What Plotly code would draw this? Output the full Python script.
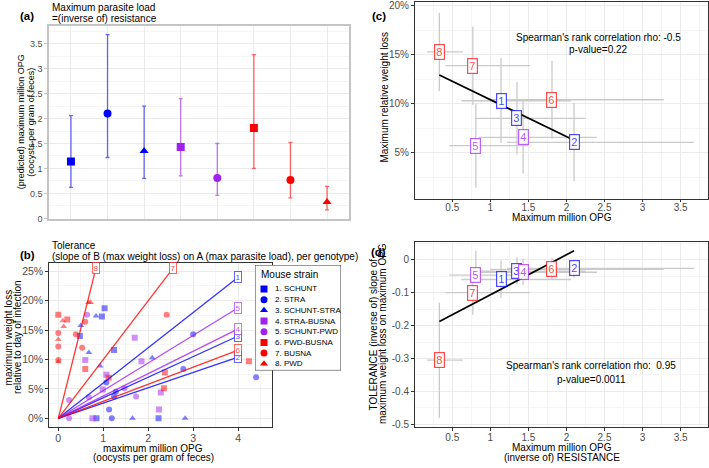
import numpy as np
import plotly.graph_objects as go

W, H = 709, 468
FONT = "Liberation Sans, Arial, sans-serif"

# ---------------- data ----------------
strain_names = ["1. SCHUNT", "2. STRA", "3. SCHUNT-STRA", "4. STRA-BUSNA",
                "5. SCHUNT-PWD", "6. PWD-BUSNA", "7. BUSNA", "8. PWD"]
strain_ids = ["1", "2", "3", "4", "5", "6", "7", "8"]
strain_symbols = ["square", "circle", "triangle-up", "square", "circle",
                  "square", "circle", "triangle-up"]
strain_groups = ["blue", "blue", "blue", "purple", "purple", "red", "red", "red"]

# (a) predicted maximum million OPG with CI
opg_max = [1.14, 2.10, 1.35, 1.43, 0.81, 1.81, 0.77, 0.33]
opg_lo = [0.62, 1.22, 0.80, 0.85, 0.46, 1.00, 0.41, 0.17]
opg_hi = [2.06, 3.68, 2.25, 2.40, 1.50, 3.28, 1.52, 0.64]

# (c) maximum relative weight loss (%) with CI
wl_max = [10.3, 6.05, 8.5, 6.55, 5.7, 10.4, 13.9, 15.3]
wl_lo = [6.0, 2.07, 4.8, 2.85, 1.4, 6.4, 9.9, 11.3]
wl_hi = [14.66, 10.1, 12.2, 10.4, 10.0, 14.4, 17.9, 19.3]

# (d) tolerance slope with CI
tol = [-0.060, -0.026, -0.035, -0.038, -0.047, -0.029, -0.100, -0.305]
tol_lo = [-0.117, -0.055, -0.075, -0.077, -0.065, -0.060, -0.167, -0.480]
tol_hi = [-0.002, 0.000, 0.007, 0.003, 0.027, 0.005, -0.035, -0.131]

# (b) individual mice: max million OPG and max weight loss (%)
b1_opg = [0.48, 0.97, 1.03, 1.24, 0.85, 2.23]
b1_wl = [14.0, 17.3, 18.7, 11.6, 0.0, 0.0]
b2_opg = [1.07, 1.28, 1.24, 1.13, 1.19, 3.00, 2.78, 4.40]
b2_wl = [6.1, 4.5, 3.7, 1.5, 0.0, 14.3, 8.4, 7.0]
b3_opg = [0.50, 0.68, 0.93, 0.84, 2.09, 1.65, 2.82]
b3_wl = [15.8, 11.2, 8.9, 17.4, 10.3, 0.0, 0.0]
b4_opg = [0.60, 1.70, 1.85, 1.07, 0.99, 2.28, 2.24, 0.76]
b4_wl = [9.9, 13.7, 9.7, 7.4, 4.9, 4.4, 1.5, 0.0]
b5_opg = [0.64, 0.24, 0.24, 0.68, 1.47, 1.73]
b5_wl = [17.6, 3.1, 0.0, 3.6, 5.1, 3.7]
b6_opg = [0.0, 0.20, 0.60, 1.12, 2.37, 2.35, 4.24]
b6_wl = [17.6, 16.8, 8.4, 6.9, 7.8, 5.1, 9.7]
b7_opg = [0.0, 0.0, 0.0, 0.39, 0.53, 0.60, 2.41]
b7_wl = [14.5, 12.2, 9.9, 14.3, 12.0, 16.4, 17.6]
b8_opg = [0.10, 0.12, 0.0, 0.0, 0.67, 0.72]
b8_wl = [16.6, 15.6, 13.4, 9.6, 19.7, 19.7]
b_opg = [b1_opg, b2_opg, b3_opg, b4_opg, b5_opg, b6_opg, b7_opg, b8_opg]
b_wl = [b1_wl, b2_wl, b3_wl, b4_wl, b5_wl, b6_wl, b7_wl, b8_wl]

rho_c, p_c = "-0.5", "0.22"
rho_d, p_d = " 0.95", "0.0011"

# ---------------- styling helpers ----------------
BASE = {"blue": (0, 0, 255), "purple": (160, 32, 240), "red": (255, 0, 0)}


def rgba(g, a):
    r, gg, b = BASE[g]
    return f"rgba({r},{gg},{b},{a})"


def pxx(x):
    return x / W


def pyy(y):
    return 1 - y / H


GRID = "#EBEBEB"
MINOR = "#F5F5F5"
TICKC = "#4D4D4D"

fig = go.Figure()

# ---------------- panel (a) ----------------
for g in ["blue", "purple", "red"]:
    idx = [i for i in range(8) if strain_groups[i] == g]
    fig.add_trace(go.Scatter(
        x=[i + 1 for i in idx], y=[opg_max[i] for i in idx],
        mode="markers",
        marker=dict(symbol=[strain_symbols[i] for i in idx], color=rgba(g, 1), size=8,
                    line=dict(width=0)),
        error_y=dict(type="data", symmetric=False,
                     array=[opg_hi[i] - opg_max[i] for i in idx],
                     arrayminus=[opg_max[i] - opg_lo[i] for i in idx],
                     color=rgba(g, 0.6), thickness=1.3, width=2),
        xaxis="x", yaxis="y", showlegend=False))

# ---------------- panel (b) ----------------
for i in range(8):
    g = strain_groups[i]
    fig.add_trace(go.Scatter(
        x=b_opg[i], y=b_wl[i], mode="markers",
        marker=dict(symbol=strain_symbols[i], color=rgba(g, 0.5), size=6, line=dict(width=0)),
        xaxis="x2", yaxis="y2", showlegend=False))

annotations = []
for i in range(8):
    g = strain_groups[i]
    slope = -tol[i] * 100
    xe = min(4.0, 25.5 / slope)
    ye = slope * xe
    fig.add_trace(go.Scatter(
        x=[0, xe], y=[0, ye], mode="lines",
        line=dict(color=rgba(g, 0.8), width=1.3),
        xaxis="x2", yaxis="y2", showlegend=False))
    annotations.append(dict(
        x=xe, y=ye, xref="x2", yref="y2", text=strain_ids[i], showarrow=False,
        font=dict(family=FONT, size=8, color=rgba(g, 0.75)),
        bgcolor="white", bordercolor=rgba(g, 0.6), borderwidth=1, borderpad=0.5))

# ---------------- panels (c) and (d) ----------------
for (xa, ya, yv, ylo, yhi) in [("x3", "y3", wl_max, wl_lo, wl_hi),
                               ("x4", "y4", tol, tol_lo, tol_hi)]:
    fig.add_trace(go.Scatter(
        x=opg_max, y=yv, mode="markers",
        marker=dict(size=1, opacity=0),
        error_x=dict(type="data", symmetric=False,
                     array=[h - m for h, m in zip(opg_hi, opg_max)],
                     arrayminus=[m - l for m, l in zip(opg_max, opg_lo)],
                     color="#CACACA", thickness=1.3, width=0),
        error_y=dict(type="data", symmetric=False,
                     array=[h - m for h, m in zip(yhi, yv)],
                     arrayminus=[m - l for m, l in zip(yv, ylo)],
                     color="#CACACA", thickness=1.3, width=0),
        xaxis=xa, yaxis=ya, showlegend=False))
    coef = np.polyfit(opg_max, yv, 1)
    xs = np.array([min(opg_max), max(opg_max)])
    fig.add_trace(go.Scatter(
        x=xs, y=np.polyval(coef, xs), mode="lines",
        line=dict(color="black", width=1.7),
        xaxis=xa, yaxis=ya, showlegend=False))
    for i in range(8):
        g = strain_groups[i]
        annotations.append(dict(
            x=opg_max[i], y=yv[i], xref=xa, yref=ya, text=strain_ids[i], showarrow=False,
            font=dict(family=FONT, size=11, color=rgba(g, 0.75)),
            bgcolor="white", bordercolor=rgba(g, 0.7), borderwidth=1.2, borderpad=1))

# ---------------- custom legend for (b) ----------------
leg_y = [24.3 + 10.85 * i for i in range(8)]
fig.add_trace(go.Scatter(
    x=[9] * 8, y=leg_y, mode="markers",
    marker=dict(symbol=strain_symbols, color=[rgba(g, 1) for g in strain_groups], size=7,
                line=dict(width=0)),
    xaxis="x5", yaxis="y5", showlegend=False, hoverinfo="skip"))
for i in range(8):
    annotations.append(dict(x=18, y=leg_y[i], xref="x5", yref="y5", text=strain_names[i],
                            showarrow=False, xanchor="left", yanchor="middle",
                            font=dict(family=FONT, size=8, color="black")))
annotations.append(dict(x=4, y=10, xref="x5", yref="y5", text="Mouse strain",
                        showarrow=False, xanchor="left", yanchor="middle",
                        font=dict(family=FONT, size=10, color="black")))


# ---------------- text annotations ----------------
def ann(text, x, y, size=10, xanchor="center", yanchor="middle", angle=0, bold=False,
        color="black"):
    t = f"<b>{text}</b>" if bold else text
    annotations.append(dict(text=t, x=pxx(x), y=pyy(y), xref="paper", yref="paper",
                            showarrow=False, xanchor=xanchor, yanchor=yanchor,
                            textangle=angle, font=dict(family=FONT, size=size, color=color)))


ann("(a)", 27, 14, 11.5, bold=True)
ann("Maximum parasite load", 50, 6, 10, xanchor="left")
ann("=(inverse of) resistance", 50, 16.5, 10, xanchor="left")
ann("(predicted) maximum million OPG", 21, 122, 9, angle=-90)
ann("(oocysts per gram of feces)", 31.5, 122, 9, angle=-90)

ann("(b)", 27, 257, 11.5, bold=True)
ann("Tolerance", 50, 247, 10, xanchor="left")
ann("(slope of B (max weight loss) on A (max parasite load), per genotype)", 50, 258, 10,
    xanchor="left")
ann("maximum weight loss", 8.5, 341, 10, angle=-90)
ann("relative to day of infection", 18, 341, 10, angle=-90)
ann("maximum million OPG", 153, 453, 10)
ann("(oocysts per gram of feces)", 153, 462.5, 10)

ann("(c)", 379, 14, 11.5, bold=True)
ann("Maximum relative weight loss", 385, 97, 10, angle=-90)
ann("Maximum million OPG", 562, 218.5, 10)
ann(f"Spearman's rank correlation rho: {rho_c}", 598, 36, 10)
ann(f"p-value={p_c}", 598, 48, 10)

ann("(d)", 379, 254, 11.5, bold=True)
ann("TOLERANCE (inverse of) slope of", 373.5, 337, 10, angle=-90)
ann("maximum weight loss on maximum OPG", 383, 337, 10, angle=-90)
ann("Maximum million OPG", 562, 452.5, 10)
ann("(inverse of) RESISTANCE", 562, 462.5, 10)
ann(f"Spearman's rank correlation rho: {rho_d}", 591, 369.5, 10)
ann(f"p-value={p_d}", 591, 383, 10)

# ---------------- shapes ----------------
shapes = [dict(type="rect", xref="x5", yref="y5", x0=0, x1=86, y0=0, y1=107,
               fillcolor="white", line=dict(color="#333333", width=1), layer="below")]


# ---------------- axes ----------------
def axis_common(**kw):
    d = dict(showgrid=True, gridcolor=GRID, gridwidth=1, zeroline=False,
             showline=True, mirror=True, linecolor="#333333", linewidth=1,
             ticks="outside", ticklen=3, tickcolor="#333333", tickwidth=1,
             ticklabeloverflow="allow",
             tickfont=dict(family=FONT, size=10, color=TICKC))
    d.update(kw)
    return d


layout_axes = dict(
    xaxis=axis_common(domain=[pxx(49), pxx(349)], range=[0.4, 8.6], tickvals=list(range(1, 9)),
                      showticklabels=False, ticks="", linecolor="#C4C4C4", linewidth=1.5,
                      anchor="y"),
    yaxis=axis_common(domain=[pyy(220), pyy(24)], range=[-0.006, 3.86],
                      tickvals=[0, 0.5, 1, 1.5, 2, 2.5, 3, 3.5],
                      ticktext=["0", "0.5", "1", "1.5", "2", "2.5", "3", "3.5"],
                      linecolor="#C4C4C4", linewidth=1.5, tickcolor="#C4C4C4",
                      tickfont=dict(family=FONT, size=9, color=TICKC),
                      minor=dict(tick0=0, dtick=0.25, showgrid=True, gridcolor=MINOR, ticks=""),
                      anchor="x"),
    xaxis2=axis_common(domain=[pxx(49.3), pxx(272.3)], range=[-0.2, 4.76],
                       tickvals=[0, 1, 2, 3, 4], ticktext=["0", "1", "2", "3", "4"],
                       tickfont=dict(family=FONT, size=10.5, color=TICKC),
                       ticklabelstandoff=-1,
                       minor=dict(tick0=0, dtick=0.5, showgrid=True, gridcolor=MINOR, ticks=""),
                       anchor="y2"),
    yaxis2=axis_common(domain=[pyy(431), pyy(265)], range=[-1.4, 26.4],
                       tickvals=[0, 5, 10, 15, 20, 25],
                       ticktext=["0%", "5%", "10%", "15%", "20%", "25%"],
                       tickfont=dict(family=FONT, size=10.5, color=TICKC),
                       minor=dict(tick0=0, dtick=2.5, showgrid=True, gridcolor=MINOR, ticks=""),
                       anchor="x2"),
    xaxis3=axis_common(domain=[pxx(415), pxx(708)], range=[0.01, 3.86],
                       tickvals=[0.5, 1, 1.5, 2, 2.5, 3, 3.5],
                       ticktext=["0.5", "1", "1.5", "2", "2.5", "3", "3.5"],
                       ticklen=2, ticklabelstandoff=-3,
                       minor=dict(tick0=0, dtick=0.25, showgrid=True, gridcolor=MINOR, ticks=""),
                       anchor="y3"),
    yaxis3=axis_common(domain=[pyy(200), 1.0], range=[0.25, 20.4],
                       tickvals=[5, 10, 15, 20], ticktext=["5%", "10%", "15%", "20%"],
                       minor=dict(tick0=0, dtick=2.5, showgrid=True, gridcolor=MINOR, ticks=""),
                       anchor="x3"),
    xaxis4=axis_common(domain=[pxx(415), pxx(708)], range=[0.01, 3.86],
                       tickvals=[0.5, 1, 1.5, 2, 2.5, 3, 3.5],
                       ticktext=["0.5", "1", "1.5", "2", "2.5", "3", "3.5"],
                       ticklabelstandoff=-2,
                       minor=dict(tick0=0, dtick=0.25, showgrid=True, gridcolor=MINOR, ticks=""),
                       anchor="y4"),
    yaxis4=axis_common(domain=[pyy(431), pyy(243.3)], range=[-0.507, 0.055],
                       tickvals=[-0.5, -0.4, -0.3, -0.2, -0.1, 0],
                       ticktext=["-0.5", "-0.4", "-0.3", "-0.2", "-0.1", "0"],
                       minor=dict(tick0=0, dtick=0.05, showgrid=True, gridcolor=MINOR, ticks=""),
                       anchor="x4"),
    xaxis5=dict(domain=[pxx(255), pxx(341)], range=[0, 86], visible=False, anchor="y5",
                fixedrange=True),
    yaxis5=dict(domain=[pyy(374), pyy(267)], range=[107, 0], visible=False, anchor="x5",
                fixedrange=True),
)

fig.update_layout(
    width=W, height=H, autosize=False,
    margin=dict(l=0, r=0, t=0, b=0),
    paper_bgcolor="white", plot_bgcolor="rgba(0,0,0,0)",
    font=dict(family=FONT, size=10, color="black"),
    showlegend=False,
    annotations=annotations,
    shapes=shapes,
    **layout_axes,
)

fig.write_html("out.html", config={"displayModeBar": False},
               post_script="document.body.style.margin='0';document.body.style.overflow='hidden';")
